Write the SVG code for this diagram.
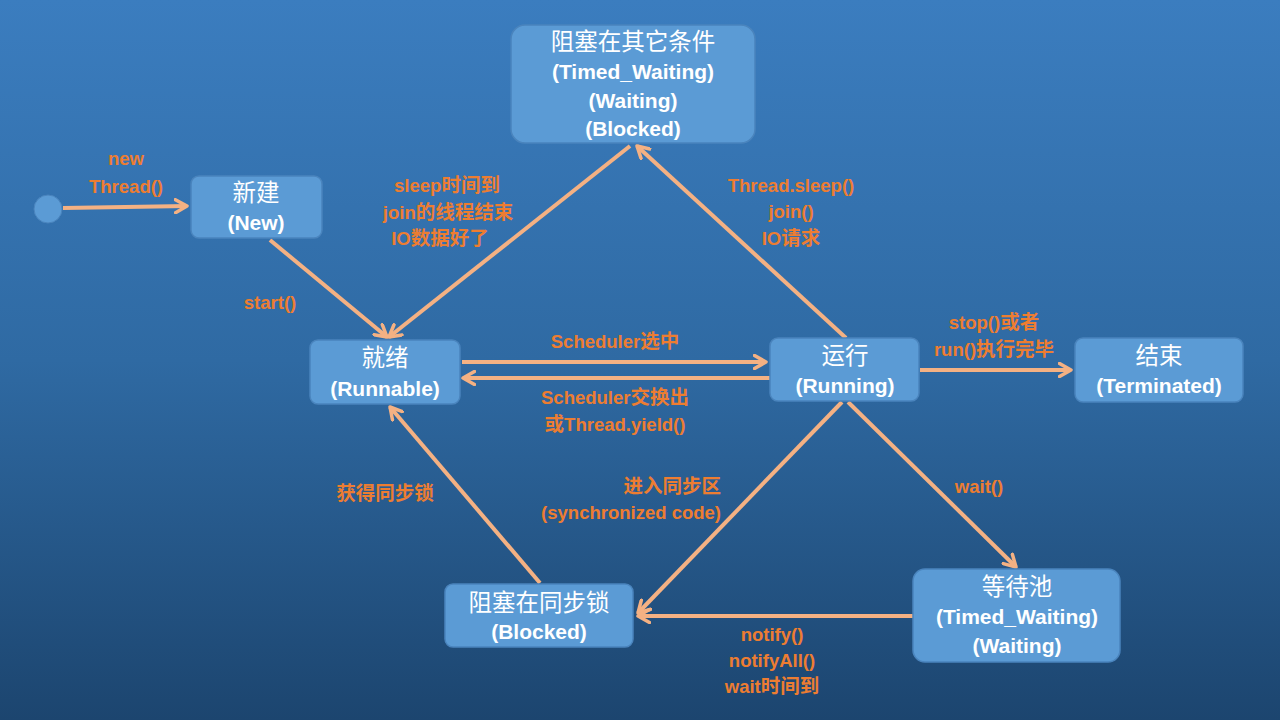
<svg xmlns="http://www.w3.org/2000/svg" width="1280" height="720" viewBox="0 0 1280 720">
<defs>
<linearGradient id="bg" x1="0" y1="0" x2="0" y2="1">
<stop offset="0" stop-color="#3b7dbf"/>
<stop offset="0.5" stop-color="#2f6aa3"/>
<stop offset="1" stop-color="#1c456f"/>
</linearGradient>
<marker id="ah" viewBox="0 0 16 16" refX="13" refY="8" markerWidth="16" markerHeight="16" markerUnits="userSpaceOnUse" orient="auto">
<path d="M1.5,1.5 L13,8 L1.5,14.5" fill="none" stroke="#f4b183" stroke-width="3.5" stroke-linecap="round" stroke-linejoin="round"/>
</marker>
<style>
.node rect{fill:#5b9bd5;stroke:#4a84bd;stroke-width:1.5}
.nt{font-family:"Liberation Sans","Noto Sans CJK SC",sans-serif;font-weight:bold;font-size:21px;fill:#ffffff;text-anchor:middle}
.nc{font-family:"Noto Sans CJK SC",sans-serif;font-weight:normal;font-size:23.5px;fill:#ffffff;text-anchor:middle}
.lbl{font-family:"Liberation Sans","Noto Sans CJK SC",sans-serif;font-weight:bold;font-size:18.5px;fill:#ed7d31;text-anchor:middle}
.cj{font-family:"Noto Sans CJK SC",sans-serif;font-size:19.5px}
.edge{stroke:#f4b183;stroke-width:4;fill:none;marker-end:url(#ah)}
</style>
</defs>
<rect x="0" y="0" width="1280" height="720" fill="url(#bg)"/>

<g id="start"><circle cx="48" cy="209" r="14" fill="#5b9bd5" stroke="#4a84bd" stroke-width="1"/></g>

<g id="connectors">
<line class="edge" x1="63" y1="208" x2="187" y2="206"/>
<line class="edge" x1="270" y1="240" x2="387" y2="337"/>
<line class="edge" x1="630" y1="146" x2="389" y2="337"/>
<line class="edge" x1="846" y1="338" x2="637" y2="146"/>
<line class="edge" x1="462" y1="362" x2="766" y2="362"/>
<line class="edge" x1="770" y1="378" x2="463" y2="378"/>
<line class="edge" x1="920" y1="370" x2="1071" y2="370"/>
<line class="edge" x1="842" y1="402" x2="638" y2="613"/>
<line class="edge" x1="848" y1="402" x2="1016" y2="567"/>
<line class="edge" x1="913" y1="616" x2="638" y2="616"/>
<line class="edge" x1="540" y1="583" x2="390" y2="407"/>
</g>

<g id="labels">
<text class="lbl" x="126" y="165">new</text>
<text class="lbl" x="126" y="193">Thread()</text>
<text class="lbl" x="270" y="309">start()</text>
<text class="lbl" x="447" y="192">sleep<tspan class="cj">时间到</tspan></text>
<text class="lbl" x="448" y="219">join<tspan class="cj">的线程结束</tspan></text>
<text class="lbl" x="440" y="245">IO<tspan class="cj">数据好了</tspan></text>
<text class="lbl" x="791" y="192">Thread.sleep()</text>
<text class="lbl" x="791" y="218">join()</text>
<text class="lbl" x="791" y="245">IO<tspan class="cj">请求</tspan></text>
<text class="lbl" x="615" y="348">Scheduler<tspan class="cj">选中</tspan></text>
<text class="lbl" x="615" y="404">Scheduler<tspan class="cj">交换出</tspan></text>
<text class="lbl" x="615" y="431"><tspan class="cj">或</tspan>Thread.yield()</text>
<text class="lbl" x="994" y="329">stop()<tspan class="cj">或者</tspan></text>
<text class="lbl" x="994" y="356">run()<tspan class="cj">执行完毕</tspan></text>
<text class="lbl cj" x="385" y="500">获得同步锁</text>
<text class="lbl cj" x="721" y="493" style="text-anchor:end">进入同步区</text>
<text class="lbl" x="721" y="519" style="text-anchor:end">(synchronized code)</text>
<text class="lbl" x="979" y="493">wait()</text>
<text class="lbl" x="772" y="641">notify()</text>
<text class="lbl" x="772" y="667">notifyAll()</text>
<text class="lbl" x="772" y="693">wait<tspan class="cj">时间到</tspan></text>
</g>

<g id="node-other" class="node">
<rect x="511" y="25" width="244" height="118" rx="14"/>
<text class="nc" x="633" y="50">阻塞在其它条件</text>
<text class="nt" x="633" y="79">(Timed_Waiting)</text>
<text class="nt" x="633" y="108">(Waiting)</text>
<text class="nt" x="633" y="136">(Blocked)</text>
</g>
<g id="node-new" class="node">
<rect x="191" y="176" width="131" height="62" rx="8"/>
<text class="nc" x="256" y="201">新建</text>
<text class="nt" x="256" y="230">(New)</text>
</g>
<g id="node-runnable" class="node">
<rect x="310" y="340" width="150" height="64" rx="8"/>
<text class="nc" x="385" y="366">就绪</text>
<text class="nt" x="385" y="396">(Runnable)</text>
</g>
<g id="node-running" class="node">
<rect x="770" y="338" width="149" height="63" rx="8"/>
<text class="nc" x="845" y="364">运行</text>
<text class="nt" x="845" y="393">(Running)</text>
</g>
<g id="node-terminated" class="node">
<rect x="1075" y="338" width="168" height="64" rx="8"/>
<text class="nc" x="1159" y="364">结束</text>
<text class="nt" x="1159" y="393">(Terminated)</text>
</g>
<g id="node-blocked" class="node">
<rect x="445" y="584" width="188" height="63" rx="8"/>
<text class="nc" x="539" y="611">阻塞在同步锁</text>
<text class="nt" x="539" y="639">(Blocked)</text>
</g>
<g id="node-waitpool" class="node">
<rect x="913" y="569" width="207" height="93" rx="12"/>
<text class="nc" x="1017" y="595">等待池</text>
<text class="nt" x="1017" y="624">(Timed_Waiting)</text>
<text class="nt" x="1017" y="653">(Waiting)</text>
</g>
</svg>
